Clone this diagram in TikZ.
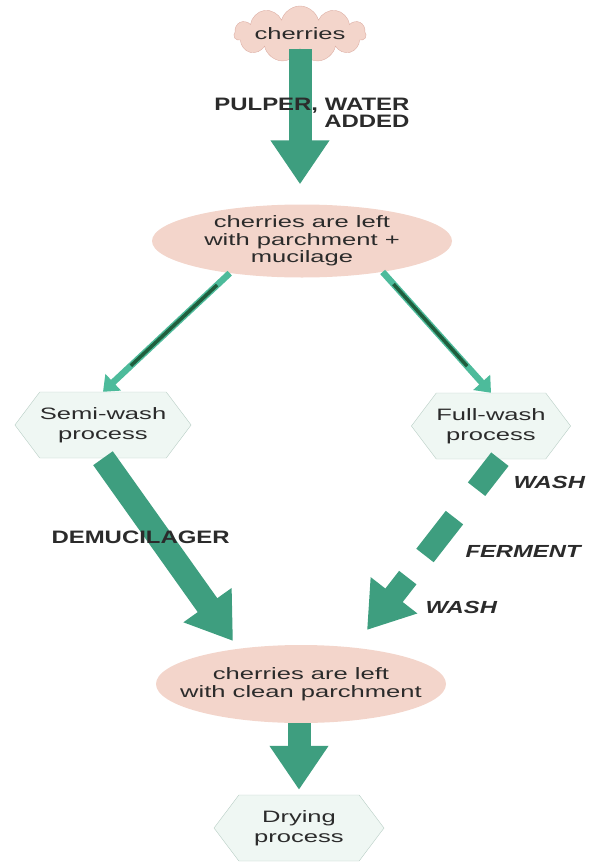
\documentclass[tikz,border=0pt]{standalone}
\usepackage{fontspec}
\setmainfont{Liberation Sans}[FakeStretch=1.55]
\newfontfamily\capsfont{Liberation Sans}[FakeStretch=1.33]
\newfontfamily\washfont{Liberation Sans}[FakeStretch=1.36]
\usetikzlibrary{shapes.geometric,shapes.symbols,arrows.meta,calc}
\definecolor{pulp}{HTML}{F3D5CB}
\definecolor{pulpline}{HTML}{DDAFA5}
\definecolor{flow}{HTML}{3E9E7F}
\definecolor{flowlight}{HTML}{4DBB9B}
\definecolor{flowdark}{HTML}{1F5E3D}
\definecolor{hexfill}{HTML}{EFF7F3}
\definecolor{hexline}{HTML}{B8CEC5}
\definecolor{ink}{HTML}{2B2B2B}

\begin{document}
\begin{tikzpicture}[x=1pt,y=-1pt]
   \tikzstyle{every node}=[text=ink, font=\fontsize{16.5}{17.5}\selectfont]
   \tikzstyle{stage}=[ellipse, fill=pulp, align=center, inner xsep=-40pt, inner ysep=0pt, minimum width=300pt, minimum height=73pt]
   \tikzstyle{process}=[signal, signal to=west and east, signal pointer angle=106, draw=hexline, fill=hexfill, align=center, inner xsep=0pt, inner ysep=0pt, minimum height=66pt, font=\fontsize{16.5}{20}\selectfont]
   \tikzstyle{bigarrow}=[draw=flow, line width=23pt, -{Triangle[width=56pt,length=44pt]}]
   \tikzstyle{thinarrow}=[draw=flowlight, line width=6.5pt, -{Triangle[width=22pt,length=14pt]}]
   \tikzstyle{core}=[draw=flowdark, line width=3.5pt]
   \tikzstyle{capslabel}=[font=\capsfont\bfseries\fontsize{18}{17}\selectfont, align=right]
   \tikzstyle{washlabel}=[font=\washfont\bfseries\itshape\fontsize{17.5}{18}\selectfont, anchor=west]

\useasboundingbox (0,0) rectangle (592,862);

\node[cloud, cloud puffs=11, aspect=2.3, draw=pulpline, fill=pulp, inner xsep=-25pt, inner ysep=0pt, minimum width=132pt, minimum height=56pt] (cherries) at (300,34) {cherries};
\node[stage] (mid) at (302,241) {cherries are left\\with parchment +\\mucilage};
\node[process, minimum width=173pt] (semi) at (103,425) {Semi-wash\\process};
\node[process, minimum width=157pt] (full) at (491,426) {Full-wash\\process};
\node[stage, minimum width=290pt, minimum height=78pt] (low) at (301,684) {cherries are left\\with clean parchment};
\node[process, minimum width=170pt] (dry) at (299,828) {Drying\\process};
\coordinate (demtip) at (233,641);
\coordinate (washtip) at (367,630);

\draw[bigarrow, shorten >=20pt] (cherries.south) -- (cherries.south |- mid.north);
\draw[thinarrow] (mid.204) -- (semi.north);
\draw[core] ($(mid.204)!0.1!(semi.north)$) -- ($(mid.204)!0.78!(semi.north)$);
\draw[thinarrow] (mid.-21) -- (full.north);
\draw[core] ($(mid.-21)!0.1!(full.north)$) -- ($(mid.-21)!0.78!(full.north)$);
\draw[bigarrow, line width=24pt] (semi.south) -- (demtip);
\draw[bigarrow, line width=22pt, dash pattern=on 38pt off 36pt on 48pt off 28pt on 200pt] (full.-75) -- (washtip);
\draw[bigarrow, shorten >=5pt] (dry.north |- low.south) -- (dry.north);

\node[capslabel, anchor=east] (pulper) at (413,113) {PULPER, WATER\\ADDED};
\node[capslabel, anchor=west] (demuc) at (48,537) {DEMUCILAGER};
\node[washlabel] (wash1) at (510,482) {WASH};
\node[washlabel] (ferment) at (462,551) {FERMENT};
\node[washlabel] (wash2) at (422,607) {WASH};

\end{tikzpicture}
\end{document}
